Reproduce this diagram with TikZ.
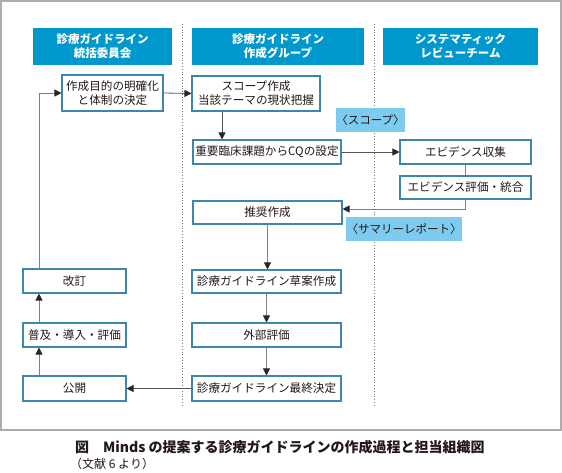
\documentclass[tikz,border=0pt]{standalone}
\usepackage{fontspec}
\setmainfont{Noto Sans CJK JP}
\usetikzlibrary{arrows.meta}
\definecolor{hdr}{HTML}{0098CD}
\definecolor{lbl}{HTML}{7DCBEE}
\definecolor{bx}{HTML}{3E86AE}
\definecolor{frm}{HTML}{AEABAB}
\definecolor{ln}{HTML}{555555}
\definecolor{txt}{HTML}{231815}
\tikzset{
  hdrbox/.style={fill=hdr, draw=none, text=white, font=\fontsize{11.5}{14}\selectfont\bfseries, align=center, inner sep=0pt, minimum height=37pt},
  box/.style={draw=bx, line width=1.1pt, fill=white, text=txt, font=\fontsize{11.6}{14}\selectfont, align=center, inner sep=0pt},
  lblbox/.style={fill=lbl, draw=none, text=txt, font=\fontsize{11.5}{14}\selectfont, inner sep=0pt, minimum height=24pt},
  conn/.style={draw=ln, line width=0.8pt},
  arr/.style={conn, -{Triangle[length=7pt,width=7pt,color=black!85]}},
  divider/.style={draw=black!55, line width=0.8pt, dotted},
}
\begin{document}
\begin{tikzpicture}[x=1pt,y=-1pt]
\useasboundingbox (0,0) rectangle (562,473);
\fill[white] (0,0) rectangle (562,473);
\draw[frm, line width=2pt] (1,1.5) rectangle (560.5,430);
% dividers
\coordinate (d1t) at (182,24); \coordinate (d1b) at (182,407);
\coordinate (d2t) at (374,24); \coordinate (d2b) at (374,407);
\draw[divider] (d1t) -- (d1b);
\draw[divider] (d2t) -- (d2b);
% headers
\node[hdrbox, minimum width=139pt] (h1) at (102.5,46.5) {診療ガイドライン\\統括委員会};
\node[hdrbox, minimum width=172pt] (h2) at (278,46.5) {診療ガイドライン\\作成グループ};
\node[hdrbox, minimum width=155pt] (h3) at (460.5,46.5) {システマティック\\レビューチーム};
% boxes
\node[box, minimum width=101pt, minimum height=36pt] (a) at (112.5,93) {作成目的の明確化\\と体制の決定};
\node[box, minimum width=128pt, minimum height=35pt] (b) at (256,93.5) {スコープ作成\\当該テーマの現状把握};
\node[lblbox, minimum width=69pt] (sc) at (370.5,120) {〈スコープ〉};
\node[box, minimum width=148pt, minimum height=24pt] (c) at (267,152) {重要臨床課題からCQの設定};
\node[box, minimum width=131pt, minimum height=24pt] (d) at (465.5,152) {エビデンス収集};
\node[box, minimum width=131pt, minimum height=23pt] (e) at (465.5,187.5) {エビデンス評価・統合};
\node[box, minimum width=149pt, minimum height=23pt] (f) at (267.5,212.5) {推奨作成};
\node[lblbox, minimum width=116pt] (sr) at (404,229) {〈サマリーレポート〉};
\node[box, minimum width=149pt, minimum height=23pt] (g) at (266.5,281.5) {診療ガイドライン草案作成};
\node[box, minimum width=149pt, minimum height=24pt] (h) at (266.5,335) {外部評価};
\node[box, minimum width=149pt, minimum height=25pt] (i) at (266.5,388.5) {診療ガイドライン最終決定};
\node[box, minimum width=103pt, minimum height=24pt] (j) at (74.5,281) {改訂};
\node[box, minimum width=103pt, minimum height=24pt] (k) at (74.5,335) {普及・導入・評価};
\node[box, minimum width=103pt, minimum height=25pt] (l) at (74.5,388.5) {公開};
% connectors
\draw[arr] (a.east) -- (b.west);
\draw[arr] ([xshift=-34pt]b.south) -- ([xshift=-34pt]b.south |- c.north);
\draw[arr] (c.east) -- (d.west);
\draw[conn, draw=black!50] (d.south) -- (e.north);
\draw[arr, draw=black!50] (e.south) |- ([yshift=3.5pt]f.east);
\draw[arr, draw=black!50] (f.south) -- (f.south |- g.north);
\draw[arr, draw=black!50] (g.south) -- (h.north);
\draw[arr, draw=black!50] (h.south) -- (i.north);
\draw[arr] (i.west) -- (l.east);
\draw[arr, draw=black!50] ([xshift=-35.5pt]l.north) -- ([xshift=-35.5pt]k.south);
\draw[arr, draw=black!50] ([xshift=-35.5pt]k.north) -- ([xshift=-35.5pt]j.south);
\draw[arr, draw=black!50] ([xshift=-35.5pt]j.north) |- (a.west);
% caption
\node[anchor=west, inner sep=0pt, text=txt, font=\fontsize{14}{16}\selectfont\bfseries] (cap1) at (75,447) {図　Minds の提案する診療ガイドラインの作成過程と担当組織図};
\node[anchor=west, inner sep=0pt, text=txt, font=\fontsize{12}{14}\selectfont] (cap2) at (70,464) {（文献 6 より）};
\end{tikzpicture}
\end{document}
